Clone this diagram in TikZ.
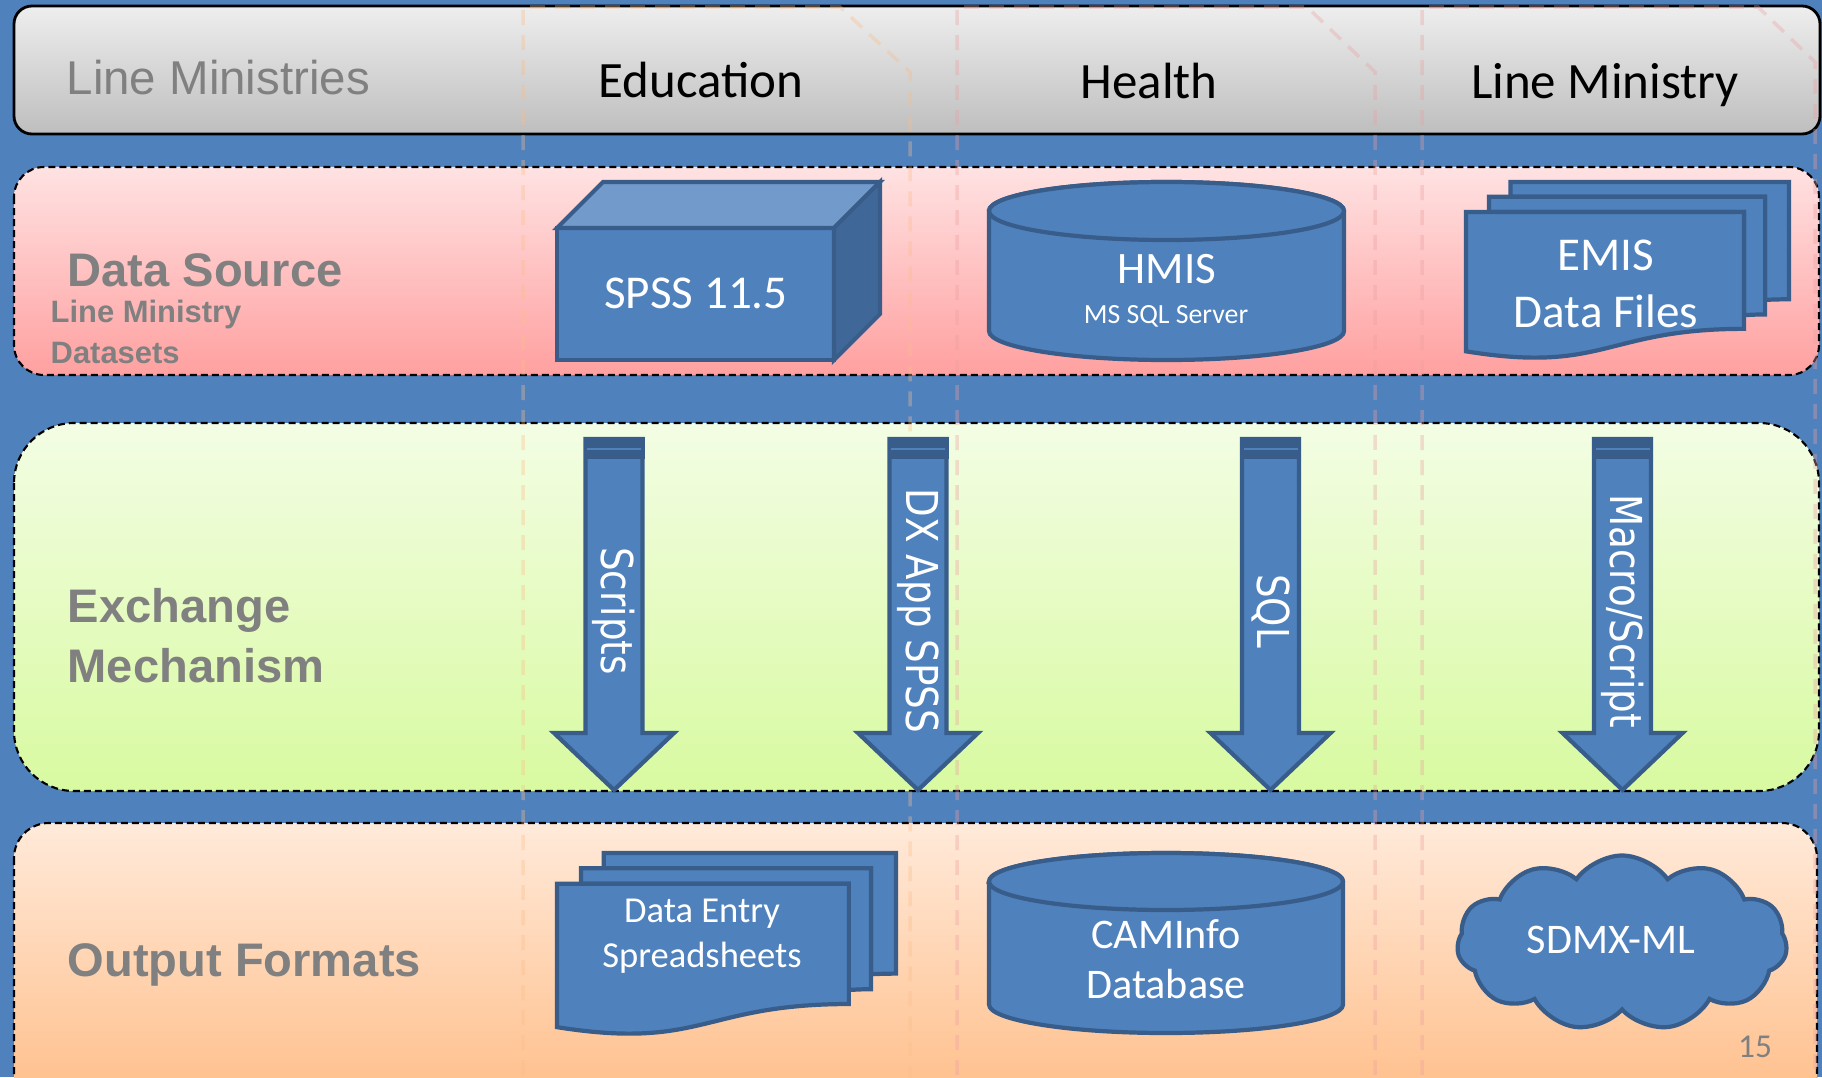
\documentclass[tikz,border=0pt]{standalone}
\usepackage{fontspec}
\usepackage{tikz}
\usetikzlibrary{shapes.symbols,calc}
\newfontfamily\calibri{Carlito}
\newfontfamily\arialf{Liberation Sans}
\newfontfamily\verdf{DejaVu Sans}
\definecolor{slideblue}{RGB}{79,129,189}
\definecolor{shapeedge}{RGB}{56,93,138}
\definecolor{labelgray}{RGB}{128,128,128}
\definecolor{cubetop}{RGB}{114,154,202}
\definecolor{cubeside}{RGB}{63,103,151}
\definecolor{hdrtop}{RGB}{238,238,238}
\definecolor{hdrbot}{RGB}{190,190,190}
\definecolor{srctop}{RGB}{255,226,226}
\definecolor{srcbot}{RGB}{255,160,160}
\definecolor{exctop}{RGB}{243,253,228}
\definecolor{excbot}{RGB}{216,250,160}
\definecolor{outtop}{RGB}{255,234,218}
\definecolor{outbot}{RGB}{255,186,130}
\definecolor{peachline}{RGB}{250,190,140}
\definecolor{pinkline}{RGB}{235,160,160}
\tikzset{
  blockshape/.style={fill=slideblue, draw=shapeedge, line width=1.2pt},
  band/.style={draw=black, line width=0.6pt, dash pattern=on 0.07cm off 0.04cm},
  colline/.style={line width=1pt, dash pattern=on 0.15cm off 0.1cm, opacity=0.35},
  hdrtxt/.style={font=\calibri\fontsize{14.5}{17}\selectfont, anchor=base, inner sep=0},
  sidelbl/.style={font=\arialf\bfseries\fontsize{13.4}{16.8}\selectfont, text=labelgray, anchor=base west, inner sep=0, align=left},
  intxt/.style={text=white, anchor=base, inner sep=0, align=center},
  arrowtxt/.style={font=\verdf\fontsize{10.6}{12}\selectfont, text=white, rotate=-90, inner sep=0},
  multidoc/.pic={
    \draw[blockshape] (0.1376,-0.084) -- (0.1376,0) -- (1,0) -- (1,-0.6663) .. controls (0.963,-0.6663) and (0.926,-0.6698) .. (0.926,-0.6698) -- (0.926,-0.084) -- cycle;
    \draw[blockshape] (0.0709,-0.1701) -- (0.0709,-0.084) -- (0.926,-0.084) -- (0.926,-0.7524) .. controls (0.8934,-0.7524) and (0.8609,-0.757) .. (0.8609,-0.757) -- (0.8609,-0.1701) -- cycle;
    \draw[blockshape] (0,-0.9621) .. controls (0.4305,-1.0899) and (0.4305,-0.8344) .. (0.8609,-0.8344) -- (0.8609,-0.1701) -- (0,-0.1701) -- cycle;
  }
}

\begin{document}
\begin{tikzpicture}
    \useasboundingbox (0,0) rectangle (18.22,-10.77);
    \clip (0,0) rectangle (18.22,-10.77);
    \fill[slideblue] (0,0) rectangle (18.22,-10.77);

    % header row
    \draw[black, line width=0.8pt, rounded corners=0.18cm, top color=hdrtop, bottom color=hdrbot] (0.14,-0.06) rectangle (18.20,-1.34);
    \node[hdrtxt, font=\arialf\fontsize{13.5}{16}\selectfont, text=labelgray, anchor=base west] (lmhead) at (0.66,-0.95) {Line Ministries};
    \node[hdrtxt] (edu)  at (7.01,-0.98) {Education};
    \node[hdrtxt] (hlth) at (11.49,-0.99) {Health};
    \node[hdrtxt] (lmin) at (16.05,-0.99) {Line Ministry};

    % bands
    \draw[band, rounded corners=0.3cm, top color=srctop, bottom color=srcbot] (0.14,-1.67) rectangle (18.19,-3.75);
    \draw[band, rounded corners=0.6cm, top color=exctop, bottom color=excbot] (0.14,-4.23) rectangle (18.19,-7.91);
    \draw[band, rounded corners=0.35cm, top color=outtop, bottom color=outbot] (0.14,-8.23) rectangle (18.17,-11.30);

    % faint column outlines
    \draw[colline, draw=peachline] (5.23,-11) -- (5.23,-0.07) -- (8.40,-0.07) -- (9.10,-0.72) -- (9.10,-11);
    \draw[colline, draw=pinkline] (9.57,-11) -- (9.57,-0.07) -- (13.07,-0.07) -- (13.75,-0.72) -- (13.75,-11);
    \draw[colline, draw=pinkline] (14.22,-11) -- (14.22,-0.07) -- (17.58,-0.07) -- (18.15,-0.62) -- (18.15,-11);

    \node[sidelbl] (dsrc) at (0.67,-2.86) {Data Source};
    \node[sidelbl, font=\arialf\bfseries\fontsize{8.8}{11.4}\selectfont] (dsets) at (0.50,-3.63) {Line Ministry\\Datasets};
    \node[sidelbl] (exch) at (0.67,-6.82) {Exchange\\Mechanism};
    \node[sidelbl] (outf) at (0.67,-9.76) {Output Formats};

    % data sources
    \draw[blockshape] (5.57,-2.28) rectangle (8.34,-3.60);
    \draw[blockshape, fill=cubetop] (5.57,-2.28) -- (6.03,-1.82) -- (8.80,-1.82) -- (8.34,-2.28) -- cycle;
    \draw[blockshape, fill=cubeside] (8.34,-2.28) -- (8.80,-1.82) -- (8.80,-3.14) -- (8.34,-3.60) -- cycle;
    \node[intxt, font=\calibri\fontsize{13.4}{16}\selectfont] (spss) at (6.96,-3.08) {SPSS 11.5};

    \draw[blockshape] (9.89,-2.11) -- (9.89,-3.31) arc[start angle=180, end angle=360, x radius=1.775, y radius=0.29] -- (13.44,-2.11) arc[start angle=0, end angle=180, x radius=1.775, y radius=0.29] -- cycle;
    \draw[blockshape] (11.665,-2.11) ellipse[x radius=1.775, y radius=0.29];
    \node[intxt, font=\calibri\fontsize{12.8}{15}\selectfont] (hmis) at (11.67,-2.83) {HMIS};
    \node[intxt, font=\calibri\fontsize{7.9}{9}\selectfont] (mssql) at (11.66,-3.23) {MS SQL Server};

    \pic[xscale=3.23, yscale=1.76] at (14.66,-1.82) {multidoc};
    \node[intxt, font=\calibri\fontsize{13.4}{16.2}\selectfont] (emis) at (16.06,-3.27) {EMIS\\Data Files};

    % exchange arrows
    \foreach \ax/\albl/\anm in {6.14/Scripts/scr, 9.18/{DX App SPSS}/dxapp, 12.705/SQL/sql, 16.225/{Macro/Script}/macro}{
      \draw[blockshape] (\ax-0.285,-4.39) -- (\ax+0.285,-4.39) -- (\ax+0.285,-7.33) -- (\ax+0.60,-7.33) -- (\ax,-7.90) -- (\ax-0.60,-7.33) -- (\ax-0.285,-7.33) -- cycle;
      \fill[shapeedge] (\ax-0.305,-4.37) rectangle (\ax+0.305,-4.59);
      \draw[slideblue, line width=0.5pt] (\ax-0.27,-4.49) -- (\ax+0.27,-4.49);
      \node[arrowtxt] (\anm) at (\ax,-6.11) {\scalebox{1}[1.18]{\albl}};
    }

    % output formats
    \pic[xscale=3.39, yscale=1.81] at (5.57,-8.53) {multidoc};
    \node[intxt, font=\calibri\fontsize{10.4}{12.8}\selectfont] (dentry) at (7.02,-9.67) {Data Entry\\Spreadsheets};

    \draw[blockshape] (9.89,-8.815) -- (9.89,-10.045) arc[start angle=180, end angle=360, x radius=1.77, y radius=0.285] -- (13.43,-8.815) arc[start angle=0, end angle=180, x radius=1.77, y radius=0.285] -- cycle;
    \draw[blockshape] (11.66,-8.815) ellipse[x radius=1.77, y radius=0.285];
    \node[intxt, font=\calibri\fontsize{12}{14.2}\selectfont] (caminfo) at (11.66,-9.98) {CAMInfo\\Database};

    \node[blockshape, cloud, cloud puffs=11, cloud puff arc=110, aspect=1.9, minimum width=3.3cm, minimum height=1.75cm, inner sep=0] (cloudshape) at (16.22,-9.43) {};
    \node[intxt, font=\calibri\fontsize{12}{14}\selectfont] (sdmx) at (16.11,-9.53) {SDMX-ML};

    \node[font=\calibri\fontsize{9.5}{11}\selectfont, text=labelgray, anchor=base, inner sep=0] (pgnum) at (17.55,-10.57) {15};
\end{tikzpicture}
\end{document}
